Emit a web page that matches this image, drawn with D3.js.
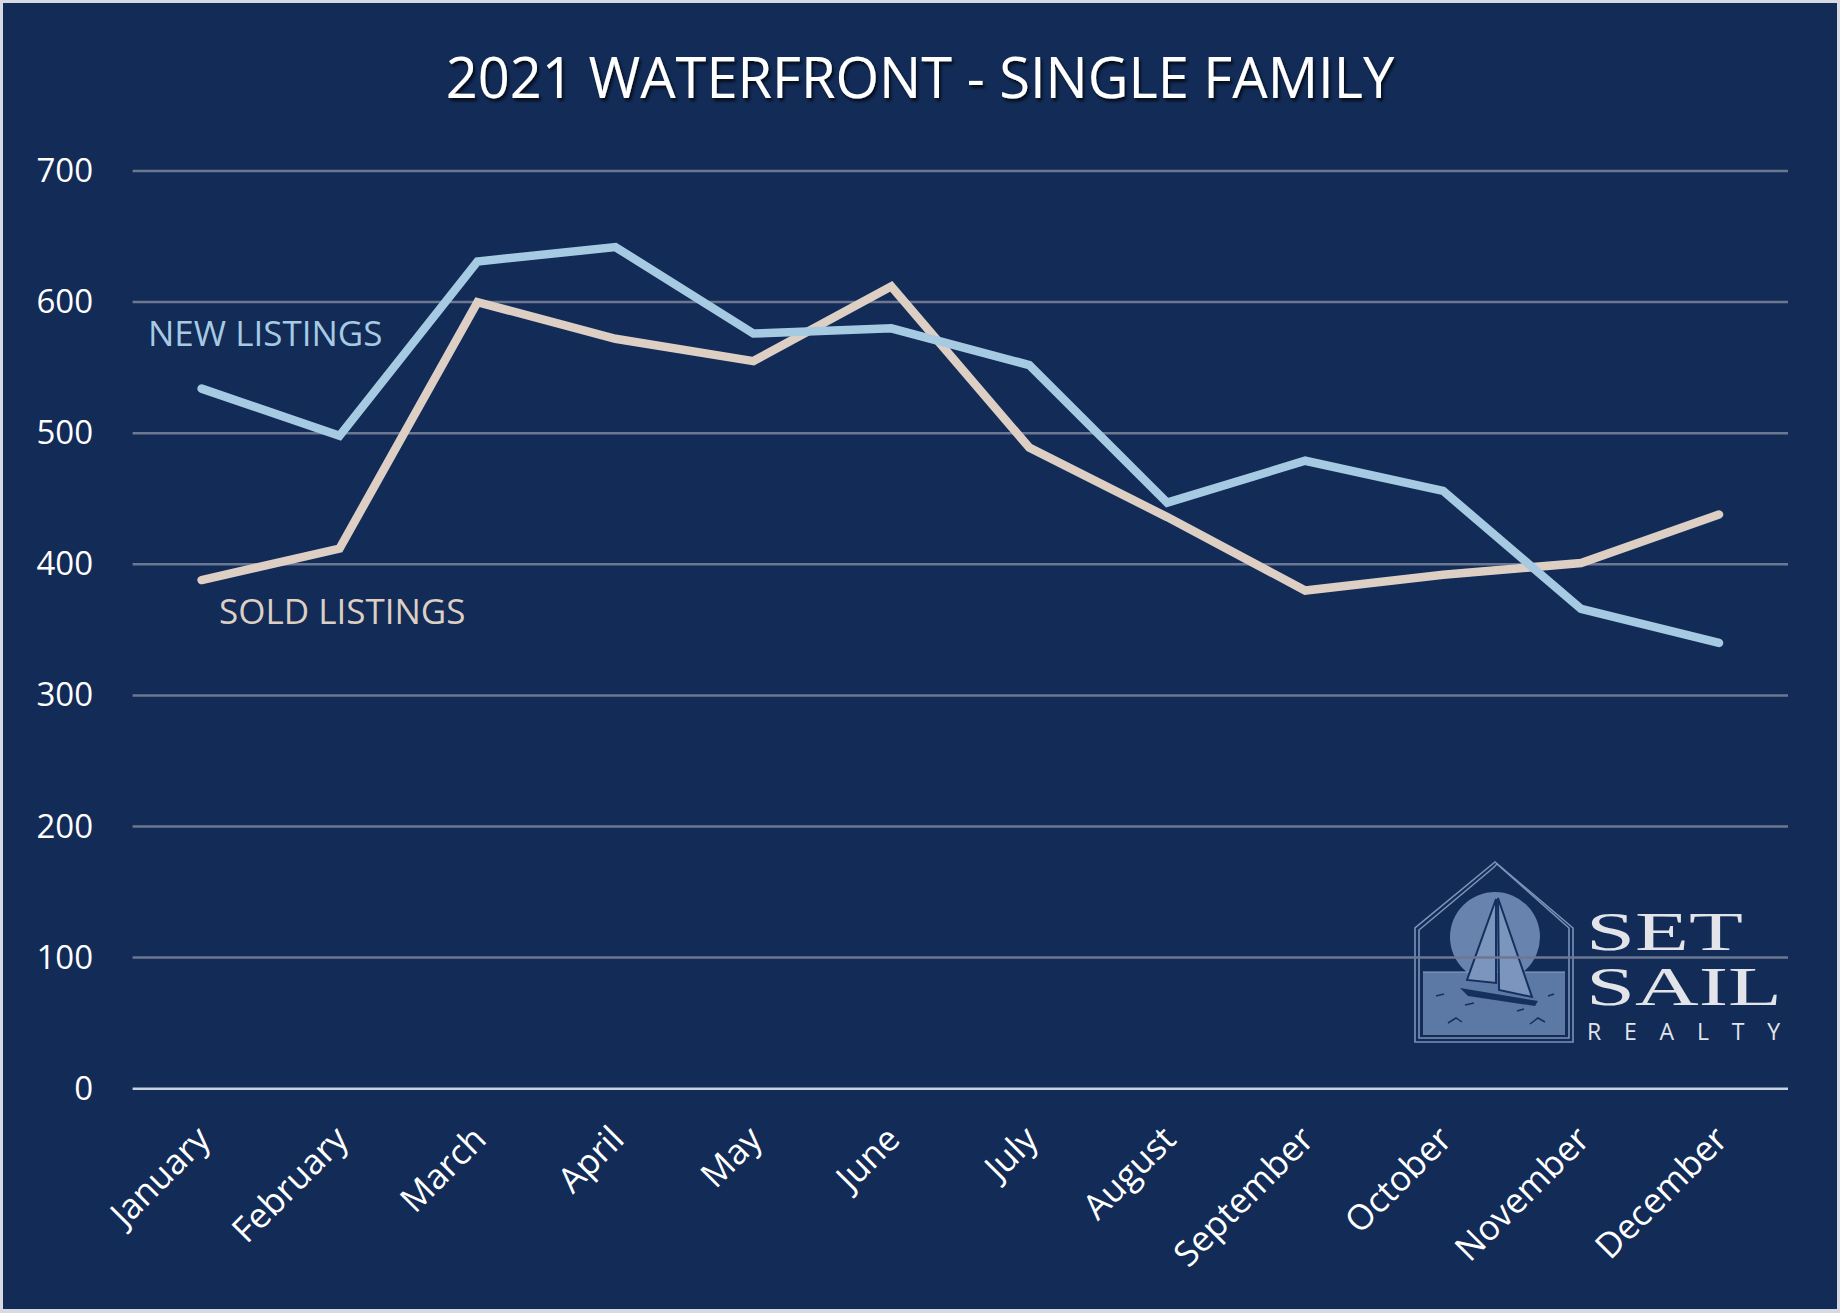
<!DOCTYPE html>
<html><head><meta charset="utf-8">
<script src="https://cdn.jsdelivr.net/npm/d3@7"></script>
<style>
html,body{margin:0;padding:0;background:#d6dae1;}
svg{display:block;}
</style></head>
<body>
<svg id="chart" width="1840" height="1313" font-family="'Open Sans','Noto Sans',sans-serif"></svg>
<script>
const months = ["January","February","March","April","May","June","July","August","September","October","November","December"];
const newListings = [534,498,631,642,576,580,552,447,479,456,366,340];
const soldListings = [388,412,600,572,555,612,489,436,380,392,401,438];
const yTicks = [0,100,200,300,400,500,600,700];
const title = "2021 WATERFRONT - SINGLE FAMILY";

(function(){
const W = 1840, H = 1313;
const svg = d3.select("#chart");
const bg = "#122b57";
const serif = "'Liberation Serif','DejaVu Serif',serif";

svg.append("rect").attr("x",0).attr("y",0).attr("width",W).attr("height",H).attr("fill","#d6dae1");
svg.append("rect").attr("x",3).attr("y",3).attr("width",W-6).attr("height",H-7).attr("fill",bg);

const defs = svg.append("defs");
const f = defs.append("filter").attr("id","shadow").attr("x","-10%").attr("y","-20%").attr("width","120%").attr("height","150%");
f.append("feDropShadow").attr("dx",2).attr("dy",3).attr("stdDeviation",1.5).attr("flood-color","#000").attr("flood-opacity",0.7);

const pLeft = 132.6, pRight = 1788, pTop = 171, pBottom = 1088.7;
const x = d3.scaleBand().domain(months).range([pLeft,pRight]);
const y = d3.scaleLinear().domain([0,700]).range([pBottom,pTop]);
const cx = m => x(m) + x.bandwidth()/2;

// Logo (drawn beneath gridlines)
const logo = svg.append("g").attr("class","logo");
const lx0 = 1415, lx1 = 1573, peakX = 1495, peakY = 862, shoulderY = 928, baseY = 1042;
logo.append("circle").attr("cx",1495).attr("cy",937).attr("r",45).attr("fill","#6783ae");
logo.append("rect").attr("x",1423).attr("y",972).attr("width",142).attr("height",63).attr("fill","#5c79a5");
logo.append("path").attr("d",`M${lx0},${baseY} L${lx0},${shoulderY} L${peakX},${peakY} L${lx1},${shoulderY} L${lx1},${baseY} Z`)
  .attr("fill","none").attr("stroke","#7b93bb").attr("stroke-width",1.6);
logo.append("path").attr("d",`M${lx0+4},${baseY-4} L${lx0+4},${shoulderY+2} L${peakX-2},${peakY+6} L${peakX+2},${peakY+2} L${lx1-4},${shoulderY} L${lx1-4},${baseY-4} Z`)
  .attr("fill","none").attr("stroke","#7b93bb").attr("stroke-width",1.6);
logo.append("line").attr("x1",1423).attr("x2",1565).attr("y1",972).attr("y2",972).attr("stroke","#8ea5c8").attr("stroke-width",1);
logo.append("path").attr("d","M1496,899 L1467,980 L1496,983 Z").attr("fill","#7c95bd").attr("stroke","#15305f").attr("stroke-width",2);
logo.append("path").attr("d","M1498,898 L1532,997 L1499,990 Z").attr("fill","#7c95bd").attr("stroke","#15305f").attr("stroke-width",2);
logo.append("path").attr("d","M1460,988 L1538,1001 L1535,1006 L1468,996 Z").attr("fill","#15305f");
[[1436,996,1444,994],[1465,1005,1474,1003],[1517,1011,1524,1009],[1548,996,1554,994]].forEach(d=>{
  logo.append("path").attr("d",`M${d[0]},${d[1]} L${d[2]},${d[3]}`).attr("stroke","#15305f").attr("stroke-width",1.5);
});
logo.append("path").attr("d","M1448,1023 L1456,1018 L1462,1022").attr("fill","none").attr("stroke","#15305f").attr("stroke-width",1.5);
logo.append("path").attr("d","M1530,1024 L1538,1018 L1545,1022").attr("fill","none").attr("stroke","#15305f").attr("stroke-width",1.5);
logo.append("text").attr("x",1586).attr("y",950).style("font-family",serif)
  .attr("font-size",54).attr("fill","#e2e4ea").attr("textLength",157).attr("lengthAdjust","spacingAndGlyphs").text("SET");
logo.append("text").attr("x",1586).attr("y",1005).style("font-family",serif)
  .attr("font-size",54).attr("fill","#e2e4ea").attr("textLength",196).attr("lengthAdjust","spacingAndGlyphs").text("SAIL");
logo.append("text").attr("x",1587).attr("y",1040).attr("font-size",23).attr("fill","#e2e4ea")
  .attr("textLength",193).attr("lengthAdjust","spacing").text("REALTY");

// Gridlines
svg.append("g").selectAll("line").data(yTicks.filter(d=>d>0)).join("line")
  .attr("x1",pLeft).attr("x2",pRight).attr("y1",d=>y(d)).attr("y2",d=>y(d))
  .attr("stroke","#6c7891").attr("stroke-width",2.5);
svg.append("line").attr("x1",pLeft).attr("x2",pRight).attr("y1",y(0)).attr("y2",y(0))
  .attr("stroke","#c9d0e0").attr("stroke-width",2.5);

// Y axis labels
const yAxis = d3.axisLeft(y).tickValues(yTicks).tickSize(0).tickPadding(0);
const ya = svg.append("g").attr("transform",`translate(93,0)`).call(yAxis);
ya.select(".domain").remove();
ya.selectAll("text").attr("font-size",33).attr("fill","#ffffff").style("font-family","'Open Sans',sans-serif");

// X axis labels
const xAxis = d3.axisBottom(x).tickSize(0).tickPadding(0);
const xa = svg.append("g").attr("transform",`translate(0,${pBottom})`).call(xAxis);
xa.select(".domain").remove();
xa.selectAll("text").attr("font-size",35).attr("fill","#ffffff").style("font-family","'Open Sans',sans-serif")
  .attr("text-anchor","end").attr("dy",null).attr("y",null)
  .attr("transform","translate(4,46) rotate(-45)").attr("dominant-baseline","middle");

// Lines
const line = d3.line().x((d,i)=>cx(months[i])).y(d=>y(d));
svg.append("path").datum(soldListings).attr("d",line).attr("fill","none")
  .attr("stroke","#ddcfc4").attr("stroke-width",8.5).attr("stroke-linecap","round").attr("stroke-linejoin","miter");
svg.append("path").datum(newListings).attr("d",line).attr("fill","none")
  .attr("stroke","#a7cae3").attr("stroke-width",8.5).attr("stroke-linecap","round").attr("stroke-linejoin","miter");

// Series labels
svg.append("text").attr("x",148).attr("y",346).attr("font-size",35).attr("fill","#a7cae3").text("NEW LISTINGS");
svg.append("text").attr("x",219).attr("y",624).attr("font-size",35).attr("fill","#ddcfc4").text("SOLD LISTINGS");

// Title
svg.append("text").attr("x",920).attr("y",98).attr("text-anchor","middle").attr("font-size",56)
  .attr("fill","#ffffff").attr("filter","url(#shadow)").text(title);
})();
</script>
</body></html>
